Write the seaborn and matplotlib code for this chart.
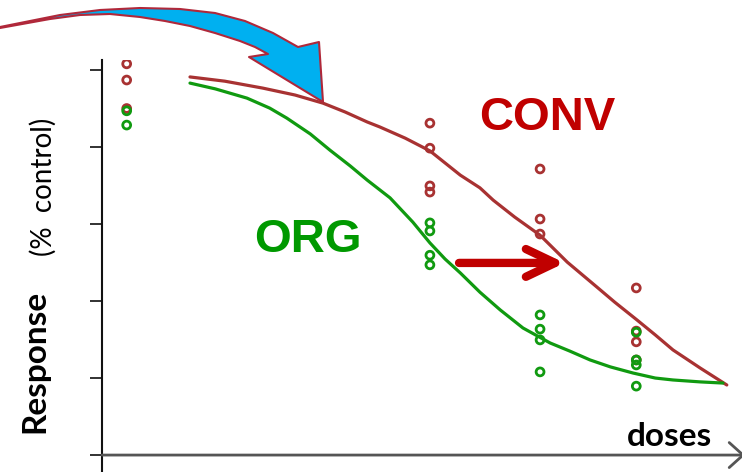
"""Dose-response curves for CONV vs ORG, with the shifted curve highlighted."""
import pandas as pd
import seaborn as sns
import matplotlib.pyplot as plt
from matplotlib.patches import Polygon

# observed responses (% control) at each log-dose position
conv_dose = [0.39, 0.39, 0.39, 5.18, 5.18, 5.18, 5.18, 6.92, 6.92, 6.92, 8.44, 8.44, 8.44, 8.44]
conv_resp = [101.6, 97.4, 90.0, 86.2, 79.7, 69.9, 68.3, 74.3, 61.3, 57.4, 43.4, 32.2, 29.4, 24.7]
org_dose = [0.39, 0.39, 5.18, 5.18, 5.18, 5.18, 6.92, 6.92, 6.92, 6.92, 8.44, 8.44, 8.44, 8.44]
org_resp = [89.4, 85.7, 60.3, 58.2, 51.9, 49.4, 36.4, 32.7, 29.9, 21.6, 31.9, 24.7, 23.4, 17.9]

# fitted curves
conv_fit_x = [1.39, 1.94, 2.54, 3.05, 3.49, 3.84, 4.19, 4.39, 4.79, 5.18, 5.66, 5.97,
              6.18, 6.52, 6.92, 7.35, 7.82, 8.10, 8.45, 8.74, 9.02, 9.45, 9.87]
conv_fit_y = [98.2, 97.1, 95.3, 93.5, 91.4, 89.1, 86.5, 85.2, 82.3, 79.0, 72.7, 69.4,
              66.2, 61.8, 57.1, 50.1, 43.6, 39.7, 35.1, 31.2, 27.3, 22.6, 18.2]
org_fit_x = [1.39, 1.79, 2.29, 2.65, 2.92, 3.29, 3.60, 3.92, 4.19, 4.55, 4.91, 5.18, 5.42,
             5.66, 5.97, 6.29, 6.65, 7.08, 7.39, 7.71, 8.03, 8.39, 8.74, 9.02, 9.45, 9.81]
org_fit_y = [96.6, 95.1, 92.7, 90.1, 87.5, 83.4, 79.2, 75.1, 71.4, 66.8, 60.5, 55.1, 50.9,
             47.3, 42.3, 37.7, 33.0, 29.1, 27.0, 24.7, 22.9, 21.3, 20.0, 19.5, 19.0, 18.7]

conv_col = "#A83232"
org_col = "#109A10"

pts = pd.DataFrame({
    "dose": conv_dose + org_dose,
    "resp": conv_resp + org_resp,
    "group": ["CONV"] * len(conv_dose) + ["ORG"] * len(org_dose),
})
fits = pd.DataFrame({
    "dose": conv_fit_x + org_fit_x,
    "resp": conv_fit_y + org_fit_y,
    "group": ["CONV"] * len(conv_fit_x) + ["ORG"] * len(org_fit_x),
})
pal = {"CONV": conv_col, "ORG": org_col}

sns.set_style("white")
fig = plt.figure(figsize=(7.42, 4.72), dpi=100)
ax = fig.add_axes([102 / 742, 0, 640 / 742, 412 / 472])

sns.lineplot(data=fits, x="dose", y="resp", hue="group", palette=pal,
             lw=2.3, legend=False, ax=ax, sort=False, estimator=None)
sns.scatterplot(data=pts, x="dose", y="resp", hue="group", palette=pal, s=32,
                marker="o", linewidth=2, legend=False, ax=ax)
for c in ax.collections:
    c.set_facecolor("none")
    c.set_edgecolor([conv_col if g == "CONV" else org_col for g in pts["group"]])

ax.set_xlim(0, 10.11)
ax.set_ylim(-4.4, 102.6)
ax.set_xlabel("")
ax.set_ylabel("")
ax.set_xticks([])
ax.set_yticks([0, 20, 40, 60, 80, 100])
ax.tick_params(axis="y", length=9, width=1.3, color="#222222", labelleft=False, left=True)
for s in ["top", "right", "bottom"]:
    ax.spines[s].set_visible(False)
ax.spines["left"].set_color("#111111")
ax.spines["left"].set_linewidth(1.5)

# x axis drawn as an arrow
ax.annotate("", xy=(10.16, 0), xytext=(0, 0), annotation_clip=False,
            arrowprops=dict(arrowstyle="->,head_length=1.0,head_width=0.9", mutation_scale=10,
                            lw=2, color="#555555", shrinkA=0, shrinkB=0))

# shift arrow
ax.annotate("", xy=(7.31, 49.9), xytext=(5.64, 49.9),
            arrowprops=dict(arrowstyle="->,head_length=2.1,head_width=1.0", mutation_scale=10,
                            lw=6, color="#C00000", shrinkA=0, shrinkB=0,
                            capstyle="round", joinstyle="round"))

ax.text(7.03, 87.5, "CONV", color="#C00000", fontsize=34, fontweight="bold",
        family="Liberation Sans", ha="center", va="center")
ax.text(3.25, 55.8, "ORG", color="#009900", fontsize=34, fontweight="bold",
        family="Liberation Sans", ha="center", va="center")

fig.text(35 / 742, 1 - 361 / 472, "Response", rotation=90, fontsize=24, fontweight="bold",
         family="Lato", color="black", ha="center", va="center")
fig.text(43 / 742, 1 - 187 / 472, "(%  control)", rotation=90, fontsize=20,
         family="Lato", color="black", ha="center", va="center")
fig.text(670 / 742, 1 - 437 / 472, "doses", fontsize=24, fontweight="bold",
         family="Lato", color="black", ha="center", va="center")

# big curved callout arrow (pixel outline, top-left origin)
outline = [(0, 27), (30, 21), (60, 15), (100, 10), (140, 8), (180, 9), (215, 13), (245, 21),
           (273, 33), (298, 47), (319, 42), (323, 102), (249, 57), (268, 54),
           (255, 47), (240, 41), (215, 33), (190, 26), (165, 21), (140, 17), (110, 14),
           (80, 15), (50, 19), (0, 28)]
fig.patches.append(Polygon([(x / 742, 1 - y / 472) for x, y in outline], closed=True,
                           transform=fig.transFigure, facecolor="#00B0F0",
                           edgecolor="#B0283A", lw=1.5, joinstyle="round", zorder=5))

plt.savefig("out.png", dpi=100)
